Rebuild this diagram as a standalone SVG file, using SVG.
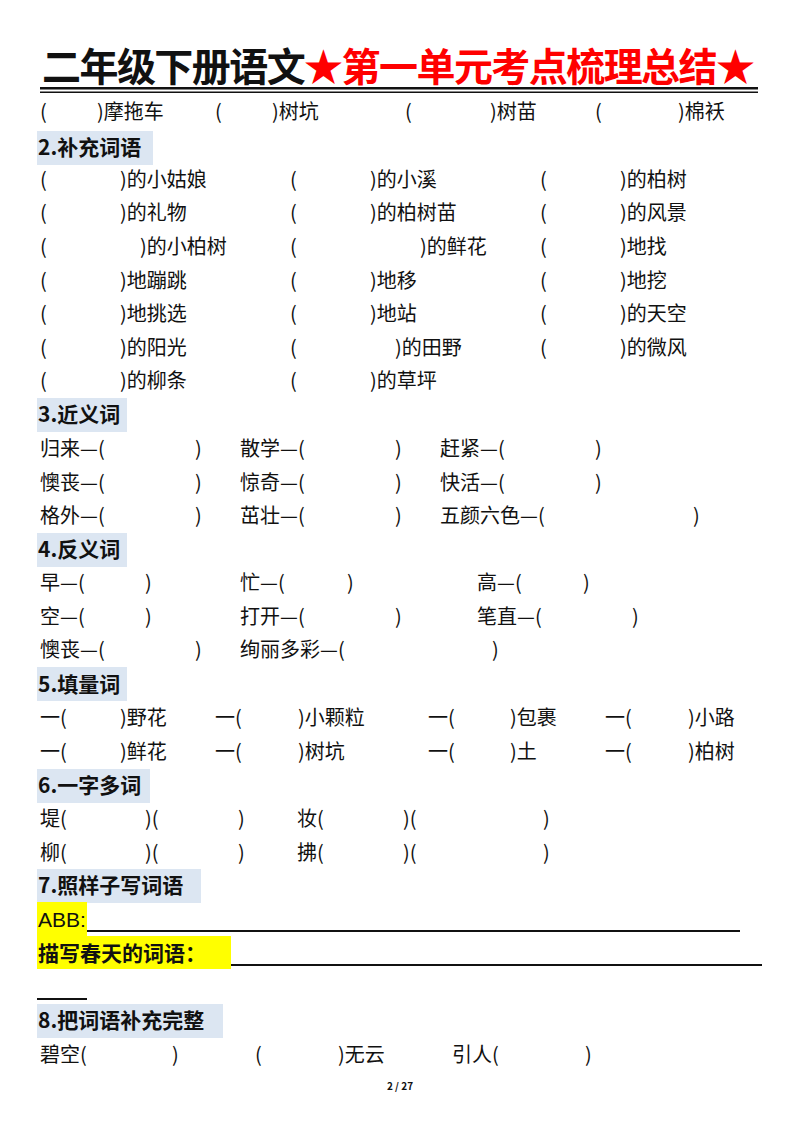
<svg xmlns="http://www.w3.org/2000/svg" width="800" height="1132" viewBox="0 0 800 1132">
<style>
text{font-family:"Noto Sans CJK SC","Liberation Sans",sans-serif;font-size:20px;fill:#111}
.h{font-weight:bold;font-size:21px}
.t{font-weight:bold;font-size:39px}
.hb{fill:#dce6f2}
.y{fill:#ffff00}
</style>
<rect width="800" height="1132" fill="#fff"/>
<text class="t" x="42" y="81" textLength="713" lengthAdjust="spacing">二年级下册语文<tspan fill="#f00">★第一单元考点梳理总结★</tspan></text>
<rect x="40" y="87" width="718" height="2.5" fill="#111"/>
<rect x="40" y="91.5" width="718" height="1.5" fill="#111"/>
<g>
<text x="40" y="119">(</text><text x="97" y="119">)摩拖车</text>
<text x="215" y="119">(</text><text x="272" y="119">)树坑</text>
<text x="405" y="119">(</text><text x="490" y="119">)树苗</text>
<text x="595" y="119">(</text><text x="678" y="119">)棉袄</text>
</g>
<rect class="hb" x="37" y="131" width="116" height="34"/>
<text class="h" x="38" y="155">2.补充词语</text>
<g>
<text x="40" y="187">(</text><text x="120" y="187">)的小姑娘</text><text x="290" y="187">(</text><text x="370" y="187">)的小溪</text><text x="540" y="187">(</text><text x="620" y="187">)的柏树</text>
<text x="40" y="220">(</text><text x="120" y="220">)的礼物</text><text x="290" y="220">(</text><text x="370" y="220">)的柏树苗</text><text x="540" y="220">(</text><text x="620" y="220">)的风景</text>
<text x="40" y="254">(</text><text x="140" y="254">)的小柏树</text><text x="290" y="254">(</text><text x="420" y="254">)的鲜花</text><text x="540" y="254">(</text><text x="620" y="254">)地找</text>
<text x="40" y="288">(</text><text x="120" y="288">)地蹦跳</text><text x="290" y="288">(</text><text x="370" y="288">)地移</text><text x="540" y="288">(</text><text x="620" y="288">)地挖</text>
<text x="40" y="321">(</text><text x="120" y="321">)地挑选</text><text x="290" y="321">(</text><text x="370" y="321">)地站</text><text x="540" y="321">(</text><text x="620" y="321">)的天空</text>
<text x="40" y="355">(</text><text x="120" y="355">)的阳光</text><text x="290" y="355">(</text><text x="395" y="355">)的田野</text><text x="540" y="355">(</text><text x="620" y="355">)的微风</text>
<text x="40" y="388">(</text><text x="120" y="388">)的柳条</text><text x="290" y="388">(</text><text x="370" y="388">)的草坪</text>
</g>
<rect class="hb" x="37" y="398" width="90" height="34"/>
<text class="h" x="38" y="422">3.近义词</text>
<g>
<text x="40" y="456">归来—(</text><text x="195" y="456">)</text><text x="240" y="456">散学—(</text><text x="395" y="456">)</text><text x="440" y="456">赶紧—(</text><text x="595" y="456">)</text>
<text x="40" y="490">懊丧—(</text><text x="195" y="490">)</text><text x="240" y="490">惊奇—(</text><text x="395" y="490">)</text><text x="440" y="490">快活—(</text><text x="595" y="490">)</text>
<text x="40" y="523">格外—(</text><text x="195" y="523">)</text><text x="240" y="523">茁壮—(</text><text x="395" y="523">)</text><text x="440" y="523">五颜六色—(</text><text x="693" y="523">)</text>
</g>
<rect class="hb" x="37" y="533" width="90" height="34"/>
<text class="h" x="38" y="557">4.反义词</text>
<g>
<text x="40" y="590">早—(</text><text x="145" y="590">)</text><text x="240" y="590">忙—(</text><text x="347" y="590">)</text><text x="477" y="590">高—(</text><text x="583" y="590">)</text>
<text x="40" y="624">空—(</text><text x="145" y="624">)</text><text x="240" y="624">打开—(</text><text x="395" y="624">)</text><text x="477" y="624">笔直—(</text><text x="632" y="624">)</text>
<text x="40" y="657">懊丧—(</text><text x="195" y="657">)</text><text x="240" y="657">绚丽多彩—(</text><text x="492" y="657">)</text>
</g>
<rect class="hb" x="37" y="667" width="90" height="34"/>
<text class="h" x="38" y="692">5.填量词</text>
<g>
<text x="40" y="725">一(</text><text x="120" y="725">)野花</text><text x="215" y="725">一(</text><text x="298" y="725">)小颗粒</text><text x="428" y="725">一(</text><text x="510" y="725">)包裹</text><text x="605" y="725">一(</text><text x="688" y="725">)小路</text>
<text x="40" y="759">一(</text><text x="120" y="759">)鲜花</text><text x="215" y="759">一(</text><text x="298" y="759">)树坑</text><text x="428" y="759">一(</text><text x="510" y="759">)土</text><text x="605" y="759">一(</text><text x="688" y="759">)柏树</text>
</g>
<rect class="hb" x="37" y="769" width="113" height="34"/>
<text class="h" x="38" y="793">6.一字多词</text>
<g>
<text x="40" y="826">堤(</text><text x="145" y="826">)(</text><text x="238" y="826">)</text><text x="297" y="826">妆(</text><text x="403" y="826">)(</text><text x="543" y="826">)</text>
<text x="40" y="860">柳(</text><text x="145" y="860">)(</text><text x="238" y="860">)</text><text x="297" y="860">拂(</text><text x="403" y="860">)(</text><text x="543" y="860">)</text>
</g>
<rect class="hb" x="37" y="869" width="164" height="34"/>
<text class="h" x="38" y="893">7.照样子写词语</text>
<rect class="y" x="37" y="902" width="50" height="34"/>
<text x="38" y="927" style="font-family:'Liberation Sans Narrow','Liberation Sans',sans-serif;font-size:21px">ABB:</text>
<rect x="87" y="930" width="653" height="2" fill="#111"/>
<rect class="y" x="37" y="936" width="194" height="33"/>
<text class="h" x="38" y="961">描写春天的词语：</text>
<rect x="231" y="964" width="531" height="2" fill="#111"/>
<rect x="37" y="998" width="50" height="2" fill="#111"/>
<rect class="hb" x="37" y="1004" width="186" height="34"/>
<text class="h" x="38" y="1028">8.把词语补充完整</text>
<g>
<text x="40" y="1062">碧空(</text><text x="172" y="1062">)</text><text x="255" y="1062">(</text><text x="338" y="1062">)无云</text><text x="452" y="1062">引人(</text><text x="585" y="1062">)</text>
</g>
<text x="400" y="1090" text-anchor="middle" style="font-size:10px;font-weight:bold">2 / 27</text>
</svg>
